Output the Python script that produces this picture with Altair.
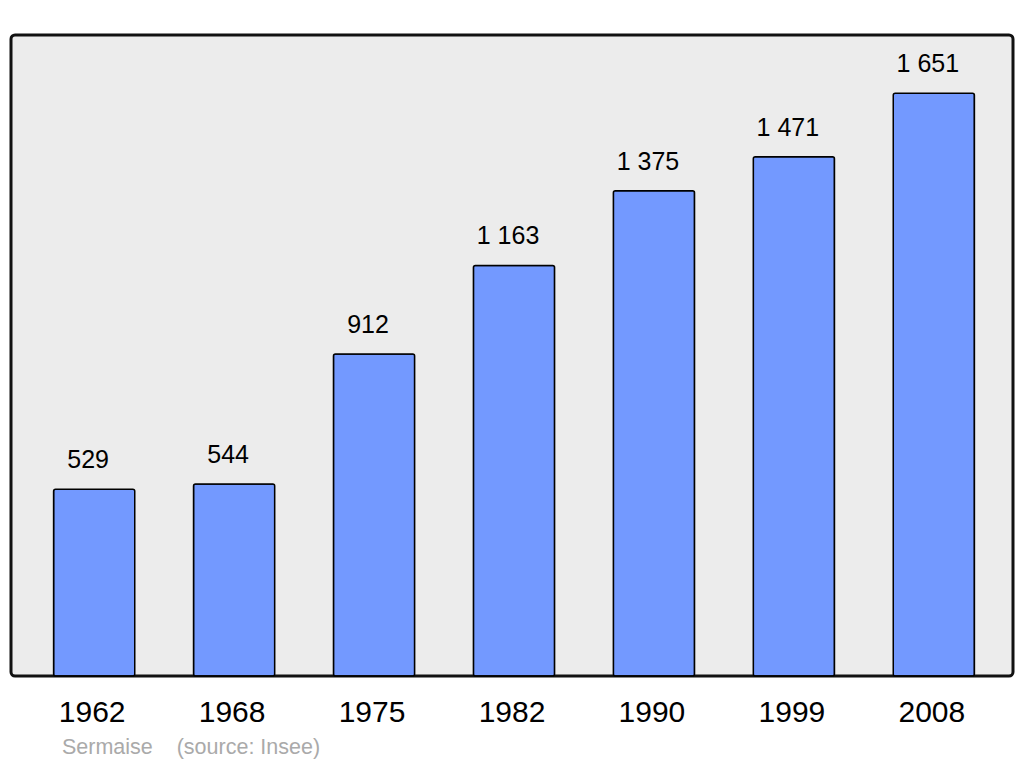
import altair as alt
import pandas as pd

years = ["1962", "1968", "1975", "1982", "1990", "1999", "2008"]
population = [529, 544, 912, 1163, 1375, 1471, 1651]
labels = [f"{v:,}".replace(",", " ") for v in population]

df = pd.DataFrame({"year": years, "pop": population, "label": labels})

x = alt.X("year:N", sort=years,
          scale=alt.Scale(paddingInner=0.42, paddingOuter=0.29),
          axis=alt.Axis(title=None, domain=False, ticks=False, labelAngle=0,
                        labelFontSize=30, labelFont="Liberation Sans",
                        labelColor="black", labelPadding=21))
y = alt.Y("pop:Q", scale=alt.Scale(domain=[0, 1816], nice=False), axis=None)

bars = alt.Chart(df).mark_bar(
    color="#7399ff", stroke="black", strokeWidth=1.5, cornerRadius=2
).encode(x=x, y=y, xOffset=alt.value(2))

text = alt.Chart(df).mark_text(
    dy=-21, dx=-4, fontSize=25, font="Liberation Sans", color="black", baseline="alphabetic"
).encode(x=x, y=y, text="label:N")

chart = alt.layer(bars, text).properties(
    width=1002, height=641,
    autosize=alt.AutoSizeParams(type="none"),
    padding={"left": 3, "top": 27, "right": 3, "bottom": 90},
    title=alt.TitleParams(
        "Sermaise\u00a0\u00a0\u00a0\u00a0(source: Insee)",
        orient="bottom", anchor="start", dx=51, offset=10,
        fontSize=21.5, font="Liberation Sans", fontWeight="normal", color="#aaaaaa",
    ),
).configure_view(
    fill="#ececec", stroke="#111111", strokeWidth=3, cornerRadius=4
)

chart.save("out.html", embed_options={"renderer": "svg", "actions": False})
